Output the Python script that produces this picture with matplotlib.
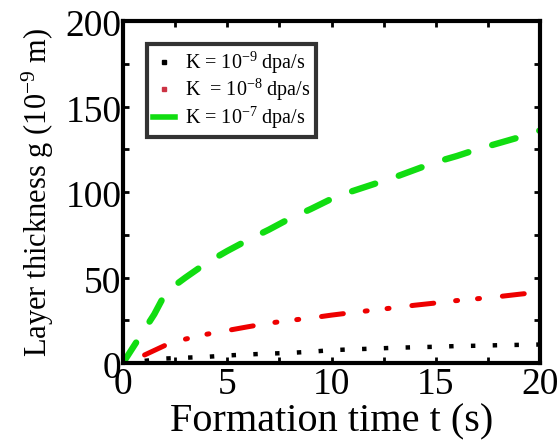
import matplotlib
matplotlib.use("Agg")
import matplotlib.pyplot as plt
from matplotlib.lines import Line2D
from matplotlib.transforms import ScaledTranslation

plt.rcParams['font.family'] = ['Liberation Serif', 'DejaVu Serif']
plt.rcParams['mathtext.fontset'] = 'custom'
plt.rcParams['mathtext.rm'] = 'Liberation Serif'
plt.rcParams['mathtext.it'] = 'Liberation Serif:italic'

# ---- data ----
t_green = [0, 0.5, 1.0, 1.5, 2.0, 2.5, 3.0, 4.0, 5.0, 6.0, 7.0, 8.0, 9.0, 10.0, 11.0, 12.0, 13.0, 14.0, 15.0, 16.0, 17.0, 18.0, 19.0, 20.0]
g_green = [0, 9.5, 19, 28.5, 40, 45.5, 50, 58.5, 65.5, 72, 78, 84.5, 90, 96, 100.5, 104.5, 108.5, 113, 117.5, 121, 125, 128.5, 132, 136]

t_red = [0, 1.0, 2.0, 3.0, 4.0, 5.0, 6.0, 7.0, 8.0, 9.0, 10.0, 11.0, 12.0, 13.0, 14.0, 15.0, 16.0, 17.0, 18.0, 19.0, 20.0]
g_red = [0, 4.5, 10.2, 14.0, 16.8, 19.0, 21.2, 23.3, 24.9, 26.3, 28.0, 29.5, 30.9, 32.3, 33.8, 35.1, 36.5, 37.6, 38.8, 40.2, 41.5]

t_black = [0, 1.0, 2.0, 3.0, 4.0, 5.0, 6.0, 7.0, 8.0, 9.0, 10.0, 11.0, 12.0, 13.0, 14.0, 15.0, 16.0, 17.0, 18.0, 19.0, 20.0]
g_black = [0, 1.2, 2.6, 3.1, 3.6, 4.4, 5.0, 5.5, 5.9, 6.6, 7.5, 8.0, 8.4, 8.9, 9.2, 9.5, 9.9, 10.1, 10.4, 10.6, 10.8]

legend_labels = ["K = 10$^{-9}$ dpa/s", "K  = 10$^{-8}$ dpa/s", "K = 10$^{-7}$ dpa/s"]
x_ticks = [0, 5, 10, 15, 20]
y_ticks = [0, 50, 100, 150, 200]

fig = plt.figure(figsize=(5.6, 4.41), dpi=100)
ax = fig.add_axes([123/560, 78/441, 417/560, 342/441])

ax.plot(t_black, g_black, color='black', lw=3.2, linestyle=(0, (1.0, 3.9)),
        dash_capstyle='butt')
ax.plot(t_red, g_red, color='#ee0000', lw=3.6,
        linestyle=(13.6, (4.4, 4.4, 0.4, 4.0, 0.4, 4.6)),
        dash_capstyle='round')
ax.plot(t_green, g_green, color='#11dd11', lw=4.6,
        linestyle=(0, (3.8, 3.9)), dash_capstyle='round')

ax.set_xlim(0, 20)
ax.set_ylim(0, 200)
ax.set_xticks(x_ticks)
ax.set_yticks(y_ticks)
ax.set_xticks([2.5, 7.5, 12.5, 17.5], minor=True)
ax.set_yticks([25, 75, 125, 175], minor=True)
ax.tick_params(which='both', direction='in', top=True, right=True,
               length=4, width=2, labelsize=27)
ax.tick_params(axis='y', pad=1)
ax.tick_params(axis='x', pad=3)
for s in ax.spines.values():
    s.set_linewidth(3)

off = ScaledTranslation(0, -1.5/72, fig.dpi_scale_trans)
for lab in ax.get_yticklabels():
    lab.set_transform(lab.get_transform() + off)

ax.set_xlabel("Formation time t (s)", fontsize=29, labelpad=1)
ax.set_ylabel("Layer thickness g (10$^{-9}$ m)", fontsize=22, labelpad=7)

handles = [
    Line2D([], [], color='black', marker='s', markersize=2.5, linestyle='none'),
    Line2D([], [], color='#cc3344', marker='s', markersize=2.5, linestyle='none'),
    Line2D([], [], color='#11dd11', lw=4),
]
leg = ax.legend(handles, legend_labels, loc='upper left', numpoints=1,
                bbox_to_anchor=((147-123)/417, (363-44)/342),
                borderaxespad=0, fontsize=14.5, frameon=True, fancybox=False,
                handlelength=1.1, handletextpad=0.5, labelspacing=0.07,
                borderpad=0.28, markerfirst=True)
leg.get_frame().set_edgecolor('black')
leg.get_frame().set_linewidth(3)

fig.savefig("out.png", dpi=100)
